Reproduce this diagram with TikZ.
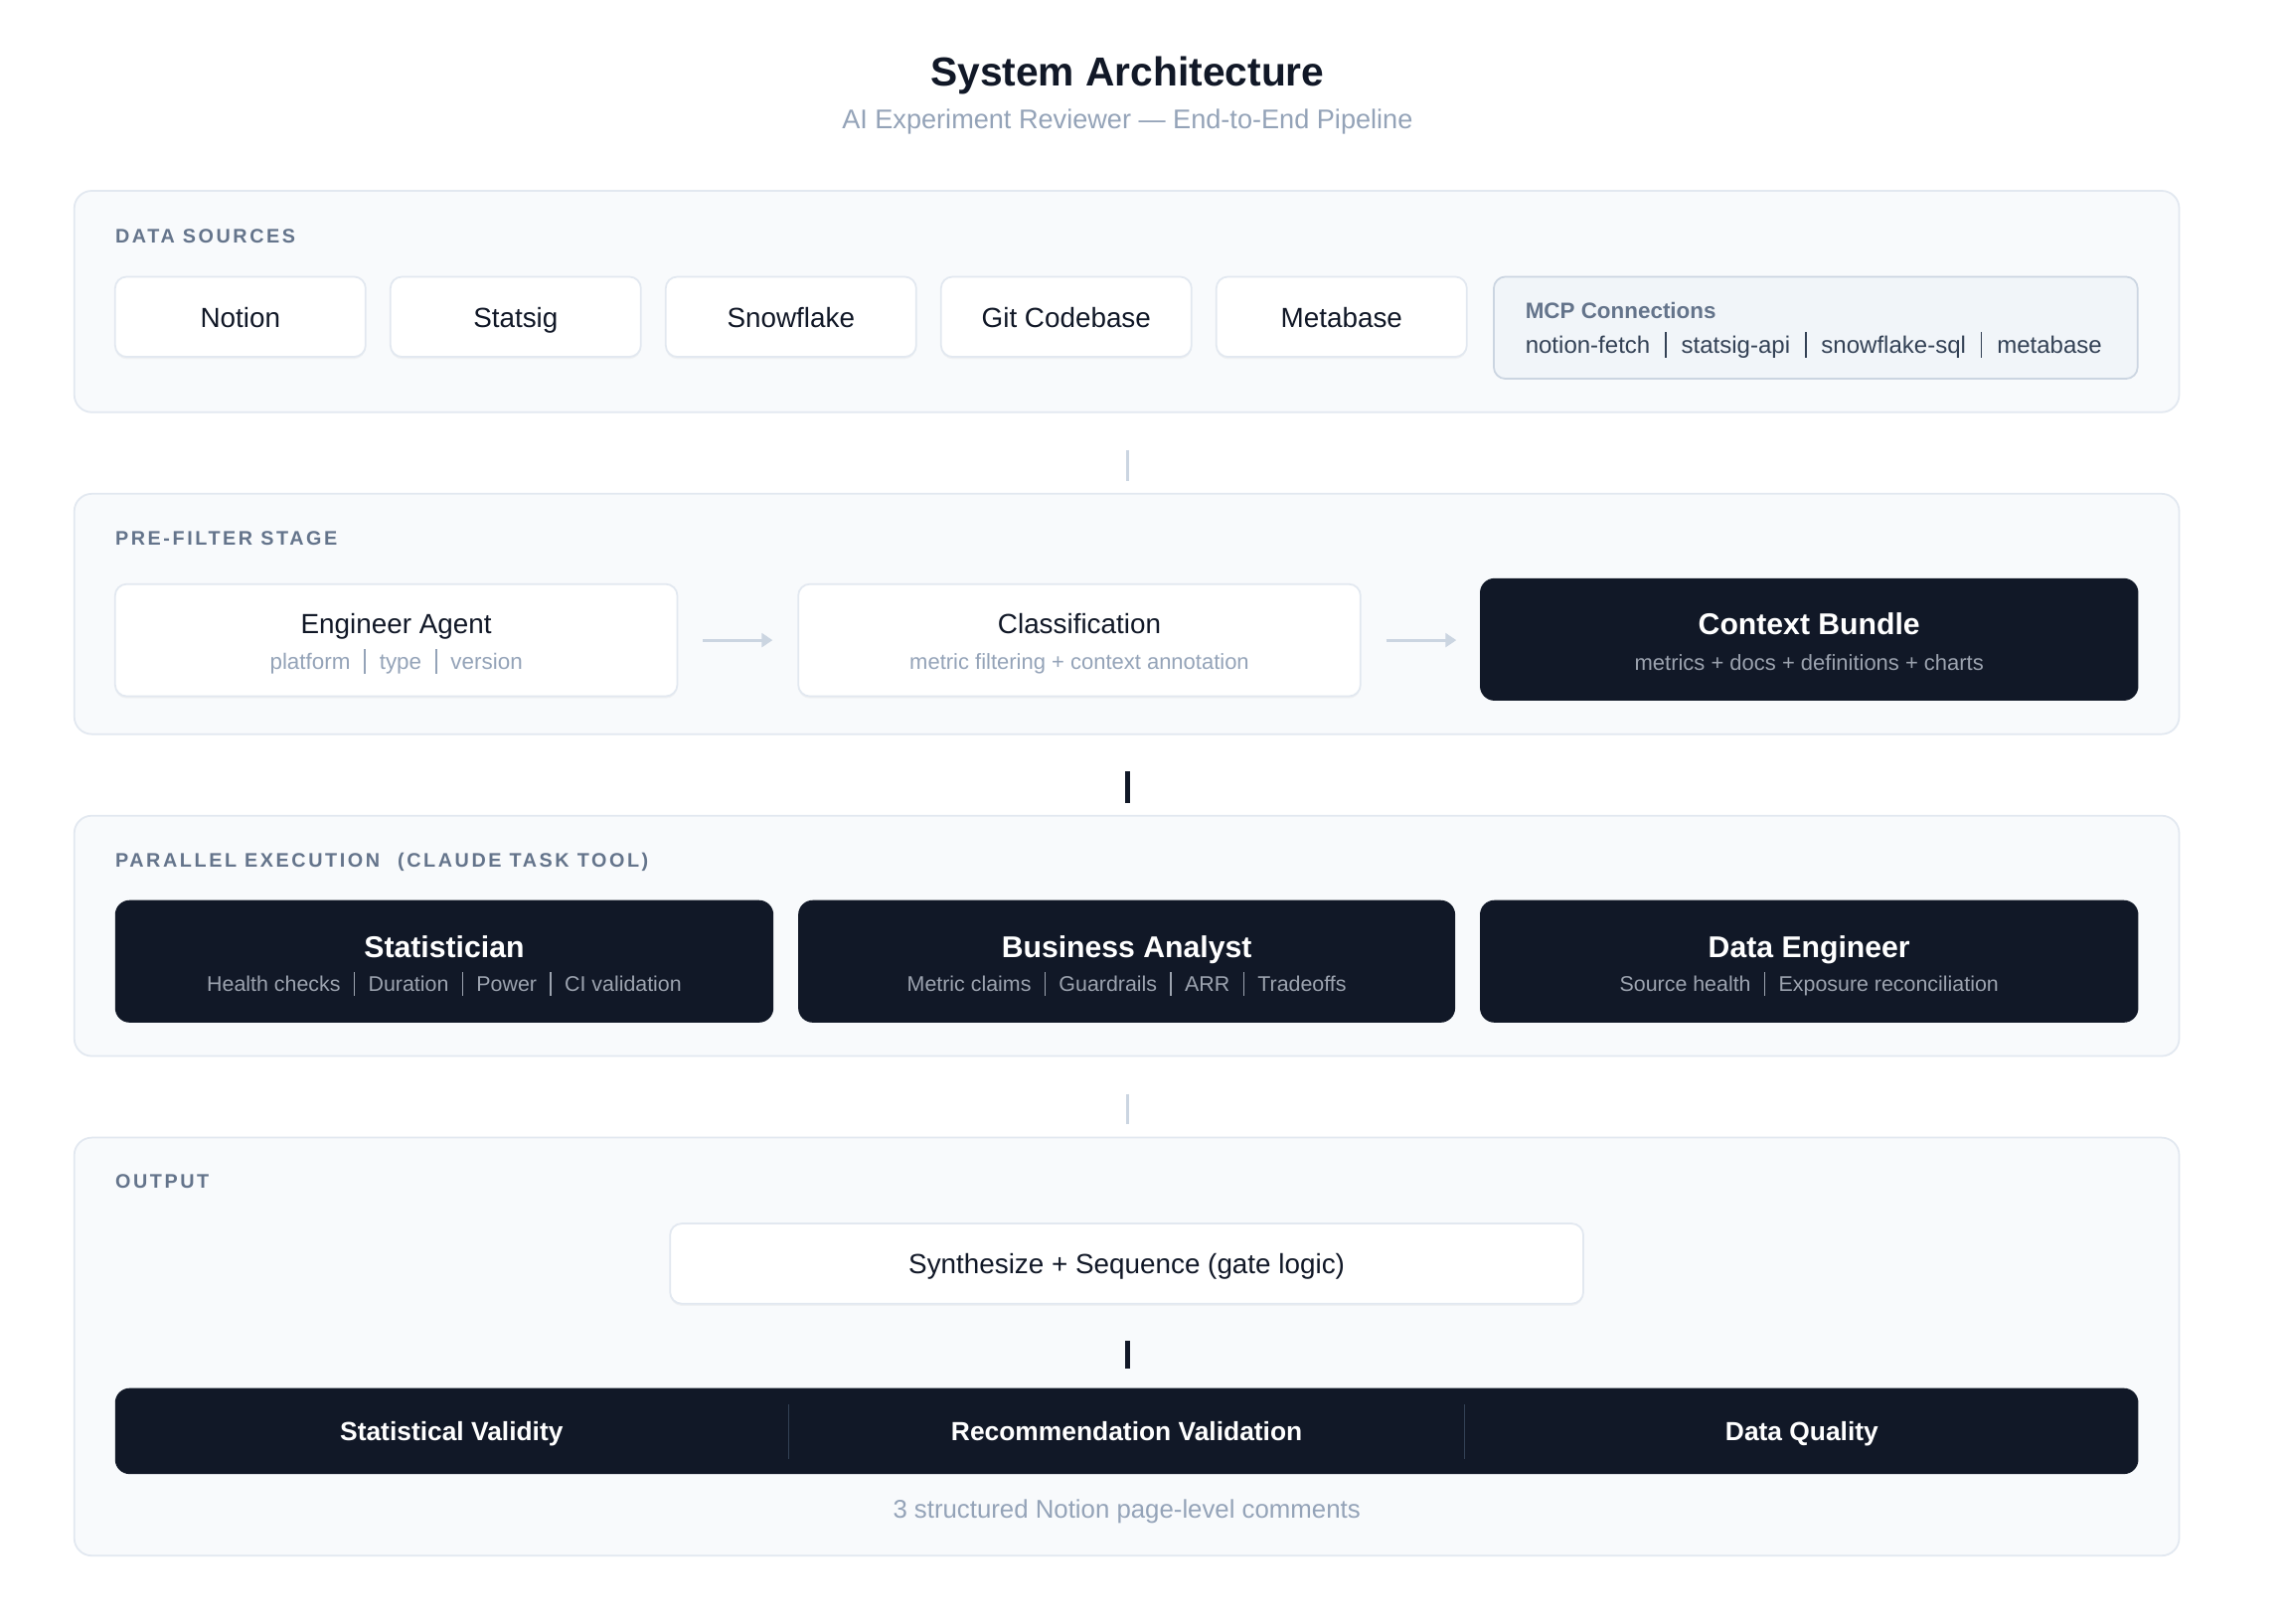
\documentclass[tikz,border=0pt]{standalone}
\usepackage{fontspec}
\setmainfont{Liberation Sans}
\newfontfamily\labelfont[LetterSpace=13]{Liberation Sans}
\usetikzlibrary{arrows.meta,shadows}
\definecolor{ink}{HTML}{111827}
\definecolor{panelfill}{HTML}{F8FAFC}
\definecolor{panelborder}{HTML}{E2E8F0}
\definecolor{labelcol}{HTML}{64748B}
\definecolor{subgray}{HTML}{94A3B8}
\definecolor{mcpfill}{HTML}{F1F5F9}
\definecolor{mcpborder}{HTML}{CBD5E1}
\definecolor{mcpitem}{HTML}{334155}
\definecolor{darksub}{HTML}{9CA3AF}
\definecolor{lightconn}{HTML}{CBD5E1}
\definecolor{divcol}{HTML}{334155}
\newcommand\barsep[1]{\hspace{0.62em}{\color{#1}\rule[-0.2em]{1pt}{1.1em}}\hspace{0.62em}}
\newcommand\fs[1]{\fontsize{#1}{#1}\selectfont}
\tikzset{
  panel/.style={draw=panelborder, line width=1.2pt, fill=panelfill, rounded corners=12pt, inner sep=0pt},
  whitebox/.style={draw=panelborder, line width=1.2pt, fill=white, rounded corners=8pt, inner sep=0pt,
    drop shadow={opacity=0.07, shadow xshift=0pt, shadow yshift=-1.5pt}},
  darkbox/.style={fill=ink, rounded corners=10pt, inner sep=0pt},
  mcpbox/.style={draw=mcpborder, line width=1.2pt, fill=mcpfill, rounded corners=8pt, inner sep=0pt},
  txt/.style 2 args={inner sep=0pt, text depth=0pt, text height=#2pt, font=\fs{#1}},
  btxt/.style 2 args={inner sep=0pt, text depth=0pt, text height=#2pt, font=\bfseries\fs{#1}},
  seclabel/.style={anchor=west, inner sep=0pt, text depth=0pt, text height=9.7pt, text=labelcol, font=\labelfont\bfseries\fs{13.5}},
  lightline/.style={draw=lightconn, line width=2pt},
  darkline/.style={draw=ink, line width=3pt},
  flowarrow/.style={draw=lightconn, line width=2pt, -{Triangle[length=7.5pt,width=9.5pt]}},
}
\begin{document}
\begin{tikzpicture}[x=1pt,y=-1pt]
\useasboundingbox[fill=white] (0,0) rectangle (1568,1114.9);

% title
\node[btxt={27.8}{19.9}, text=ink] (title) at (774,49) {System Architecture};
\node[txt={18.5}{13.2}, text=subgray] (subtitle) at (774,82) {AI Experiment Reviewer — End-to-End Pipeline};

% ---------- panel 1: data sources
\node[panel, minimum width=1445pt, minimum height=152pt] (p1) at (773.5,207) {};
\node[seclabel] (l1) at (79,162) {DATA SOURCES};
\node[whitebox, minimum width=172pt, minimum height=55pt] (notion) at (165,217.5) {};
\node[whitebox, minimum width=172pt, minimum height=55pt] (statsig) at (354,217.5) {};
\node[whitebox, minimum width=172pt, minimum height=55pt] (snowflake) at (543,217.5) {};
\node[whitebox, minimum width=172pt, minimum height=55pt] (git) at (732,217.5) {};
\node[whitebox, minimum width=172pt, minimum height=55pt] (metabase) at (921,217.5) {};
\node[txt={19}{13.6}, text=ink] at (165,218) {Notion};
\node[txt={19}{13.6}, text=ink] at (354,218) {Statsig};
\node[txt={19}{13.6}, text=ink] at (543,218) {Snowflake};
\node[txt={19}{13.6}, text=ink] at (732,218) {Git Codebase};
\node[txt={19}{13.6}, text=ink] at (921,218) {Metabase};
\node[mcpbox, minimum width=442pt, minimum height=70pt] (mcp) at (1246.5,225) {};
\node[btxt={15.3}{11}, anchor=west, text=labelcol] (mcpt) at (1047,213.5) {MCP Connections};
\node[txt={16.4}{11.7}, anchor=west, text=mcpitem] (mcpi) at (1047,236.5)
  {notion-fetch\barsep{mcpitem}statsig-api\barsep{mcpitem}snowflake-sql\barsep{mcpitem}metabase};

% connector 1
\coordinate (c1a) at (774,309);
\coordinate (c1b) at (774,330);
\draw[lightline] (c1a) -- (c1b);

% ---------- panel 2: pre-filter
\node[panel, minimum width=1445pt, minimum height=165pt] (p2) at (773.5,421.5) {};
\node[seclabel] (l2) at (79,369.5) {PRE-FILTER STAGE};
\node[whitebox, minimum width=386pt, minimum height=77pt] (eng) at (272,439.5) {};
\node[txt={19}{13.6}, text=ink] (engt) at (272,428.3) {Engineer Agent};
\node[txt={15.3}{11}, text=subgray] (engs) at (272,454) {platform\barsep{subgray}type\barsep{subgray}version};
\node[whitebox, minimum width=386pt, minimum height=77pt] (cls) at (741,439.5) {};
\node[txt={19}{13.6}, text=ink] (clst) at (741,428.3) {Classification};
\node[txt={15}{10.7}, text=subgray] (clss) at (741,454) {metric filtering + context annotation};
\node[darkbox, minimum width=452pt, minimum height=84pt] (ctx) at (1242,439) {};
\node[btxt={20.6}{14.7}, text=white] (ctxt) at (1242,428.4) {Context Bundle};
\node[txt={15}{10.7}, text=darksub] (ctxs) at (1242,454.6) {metrics + docs + definitions + charts};
\draw[flowarrow] ([xshift=17pt]eng.east) -- ([xshift=-17pt]cls.west);
\draw[flowarrow] ([xshift=17pt]cls.east |- eng.east) -- ([xshift=-16pt]ctx.west |- eng.east);

% connector 2
\coordinate (c2a) at (774,529.5);
\coordinate (c2b) at (774,551);
\draw[darkline] (c2a) -- (c2b);

% ---------- panel 3: parallel execution
\node[panel, minimum width=1445pt, minimum height=165pt] (p3) at (773.5,642.5) {};
\node[seclabel] (l3) at (79,590.5) {PARALLEL EXECUTION\hspace{0.5em} (CLAUDE TASK TOOL)};
\node[darkbox, minimum width=452pt, minimum height=84pt] (stat) at (305,660) {};
\node[btxt={20.6}{14.7}, text=white] (statt) at (305,650) {Statistician};
\node[txt={14.6}{10.5}, text=darksub] (stats) at (305,675.3) {Health checks\barsep{darksub}Duration\barsep{darksub}Power\barsep{darksub}CI validation};
\node[darkbox, minimum width=451pt, minimum height=84pt] (ba) at (773.5,660) {};
\node[btxt={20.6}{14.7}, text=white] (bat) at (773.5,650) {Business Analyst};
\node[txt={14.6}{10.5}, text=darksub] (bas) at (773.5,675.3) {Metric claims\barsep{darksub}Guardrails\barsep{darksub}ARR\barsep{darksub}Tradeoffs};
\node[darkbox, minimum width=452pt, minimum height=84pt] (de) at (1242,660) {};
\node[btxt={20.6}{14.7}, text=white] (det) at (1242,650) {Data Engineer};
\node[txt={14.6}{10.5}, text=darksub] (des) at (1242,675.3) {Source health\barsep{darksub}Exposure reconciliation};

% connector 3
\coordinate (c3a) at (774,751);
\coordinate (c3b) at (774,772);
\draw[lightline] (c3a) -- (c3b);

% ---------- panel 4: output
\node[panel, minimum width=1445pt, minimum height=287pt] (p4) at (773.5,924.5) {};
\node[seclabel] (l4) at (79,811) {OUTPUT};
\node[whitebox, minimum width=627pt, minimum height=55pt] (syn) at (773.5,867.5) {};
\node[txt={19}{13.6}, text=ink] (synt) at (773.5,867.7) {Synthesize + Sequence (gate logic)};
\coordinate (c4a) at (774,920.5);
\coordinate (c4b) at (774,939.5);
\draw[darkline] (c4a) -- (c4b);
\node[darkbox, minimum width=1389pt, minimum height=59pt] (out) at (773.5,982.5) {};
\draw[divcol, line width=1pt] (541.5,964) -- (541.5,1001.5);
\draw[divcol, line width=1pt] (1005.5,964) -- (1005.5,1001.5);
\node[btxt={18}{12.9}, text=white] (o1) at (310,982.6) {Statistical Validity};
\node[btxt={18}{12.9}, text=white] (o2) at (773.5,982.6) {Recommendation Validation};
\node[btxt={18}{12.9}, text=white] (o3) at (1237,982.6) {Data Quality};
\node[txt={17.6}{12.6}, text=subgray] (cap) at (773.5,1036) {3 structured Notion page-level comments};
\end{tikzpicture}
\end{document}
